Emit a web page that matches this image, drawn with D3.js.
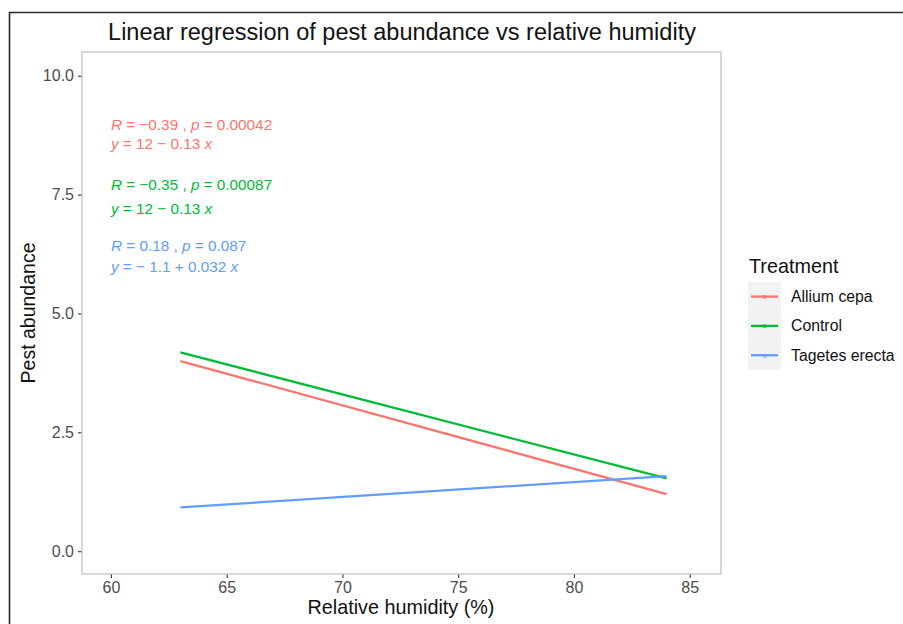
<!DOCTYPE html>
<html>
<head>
<meta charset="utf-8">
<script src="https://cdn.jsdelivr.net/npm/d3@7"></script>
<style>
  body { margin: 0; background: #fff; }
  svg { display: block; font-family: 'Liberation Sans', Arial, sans-serif; }
</style>
</head>
<body>
<div id="chart"></div>
<script>
// data
const treatments = ['Allium cepa', 'Control', 'Tagetes erecta']
const colors = ['#F8766D', '#00BA38', '#619CFF']
const humidityRange = [63, 84]
const fitStart = [4.0, 4.18, 0.92]   // fitted abundance at 63 %
const fitEnd = [1.2, 1.53, 1.58]     // fitted abundance at 84 %
const statLabels = [
    ['R = −0.39 , p = 0.00042', 'y = 12 − 0.13 x'],
    ['R = −0.35 , p = 0.00087', 'y = 12 − 0.13 x'],
    ['R = 0.18 , p = 0.087', 'y = − 1.1 + 0.032 x']
]
const labelX = 60
const labelY = [[8.98, 8.58], [7.7, 7.2], [6.42, 5.98]]
const xTicks = [60, 65, 70, 75, 80, 85]
const yTicks = [0, 2.5, 5, 7.5, 10]

const W = 903, H = 624
const panel = { left: 82, right: 721, top: 52, bottom: 574 }

const svg = d3.select('#chart').append('svg')
    .attr('width', W)
    .attr('height', H)

// outer frame of the figure
svg.append('path')
    .attr('d', `M9.5,${H} V12.5 H${W}`)
    .attr('fill', 'none')
    .attr('stroke', '#2b2b2b')
    .attr('stroke-width', 1.6)

const xScale = d3.scaleLinear().domain([58.75, 86.35]).range([panel.left, panel.right])
const yScale = d3.scaleLinear().domain([-0.48, 10.5]).range([panel.bottom, panel.top])

const xAxis = d3.axisBottom(xScale).tickValues(xTicks).tickSize(4).tickPadding(4).tickFormat(d3.format('d'))
const yAxis = d3.axisLeft(yScale).tickValues(yTicks).tickSize(4).tickPadding(4).tickFormat(d3.format('.1f'))

svg.append('g')
    .attr('class', 'x axis')
    .attr('transform', `translate(0,${panel.bottom})`)
    .call(xAxis)

svg.append('g')
    .attr('class', 'y axis')
    .attr('transform', `translate(${panel.left},0)`)
    .call(yAxis)

svg.selectAll('.axis .domain').remove()
svg.selectAll('.axis line').attr('stroke', '#333').attr('stroke-width', 1.1)
svg.selectAll('.axis text')
    .attr('fill', '#4D4D4D')
    .style('font-size', '16px')

svg.append('rect')
    .attr('x', panel.left)
    .attr('y', panel.top)
    .attr('width', panel.right - panel.left)
    .attr('height', panel.bottom - panel.top)
    .attr('fill', 'none')
    .attr('stroke', '#C4C4C4')
    .attr('stroke-width', 1.3)

// regression lines
const line = d3.line().x(d => xScale(d[0])).y(d => yScale(d[1]))
treatments.forEach((t, i) => {
    svg.append('path')
        .datum([[humidityRange[0], fitStart[i]], [humidityRange[1], fitEnd[i]]])
        .attr('d', line)
        .attr('fill', 'none')
        .attr('stroke', colors[i])
        .attr('stroke-width', 2.3)
})

// R / p and equation labels, italic letters
const italicise = (sel, str) => {
    str.split(/([Rpyx])/).filter(s => s !== '').forEach(s => {
        sel.append('tspan')
            .style('font-style', /^[Rpyx]$/.test(s) ? 'italic' : 'normal')
            .text(s)
    })
}
statLabels.forEach((pair, i) => {
    pair.forEach((str, j) => {
        const txt = svg.append('text')
            .attr('x', xScale(labelX))
            .attr('y', yScale(labelY[i][j]))
            .attr('dy', '0.35em')
            .attr('fill', colors[i])
            .style('font-size', '15.3px')
        italicise(txt, str)
    })
})

// titles
svg.append('text')
    .attr('x', 402)
    .attr('y', 32)
    .attr('dy', '0.35em')
    .attr('text-anchor', 'middle')
    .attr('fill', '#111')
    .style('font-size', '23.5px')
    .text('Linear regression of pest abundance vs relative humidity')

svg.append('text')
    .attr('x', 401)
    .attr('y', 607)
    .attr('dy', '0.35em')
    .attr('text-anchor', 'middle')
    .attr('fill', '#111')
    .style('font-size', '19.8px')
    .text('Relative humidity (%)')

svg.append('text')
    .attr('transform', `translate(28,${(panel.top + panel.bottom) / 2}) rotate(-90)`)
    .attr('dy', '0.35em')
    .attr('text-anchor', 'middle')
    .attr('fill', '#111')
    .style('font-size', '19.5px')
    .text('Pest abundance')

// legend
svg.append('text')
    .attr('x', 749)
    .attr('y', 266)
    .attr('dy', '0.35em')
    .attr('fill', '#111')
    .style('font-size', '19.8px')
    .text('Treatment')

const legend = svg.selectAll('.legend')
    .data(treatments)
    .enter().append('g')
    .attr('class', 'legend')
    .attr('transform', (d, i) => `translate(748,${282 + i * 29.3})`)

legend.append('rect')
    .attr('width', 33)
    .attr('height', 29.3)
    .attr('fill', '#F2F2F2')

legend.append('line')
    .attr('x1', 3)
    .attr('x2', 30)
    .attr('y1', 14.6)
    .attr('y2', 14.6)
    .attr('stroke', (d, i) => colors[i])
    .attr('stroke-width', 2.3)

legend.append('text')
    .attr('x', 16.5)
    .attr('y', 17)
    .attr('text-anchor', 'middle')
    .attr('fill', (d, i) => colors[i])
    .style('font-size', '7px')
    .text('a')

legend.append('text')
    .attr('x', 43)
    .attr('y', 14.6)
    .attr('dy', '0.35em')
    .attr('fill', '#111')
    .style('font-size', '15.8px')
    .text(d => d)
</script>
</body>
</html>
